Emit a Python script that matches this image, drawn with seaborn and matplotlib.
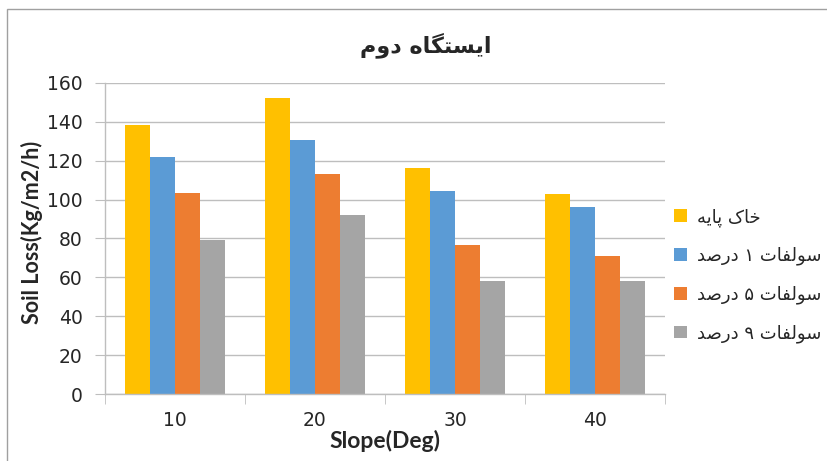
import matplotlib
matplotlib.use("Agg")
import matplotlib.pyplot as plt
import seaborn as sns
import pandas as pd
import numpy as np
from matplotlib.patches import Rectangle

slopes = ["10", "20", "30", "40"]
series_names = ["خاک پایه", "سولفات ۱ درصد", "سولفات ۵ درصد", "سولفات ۹ درصد"]
base_soil = [138.5, 152.5, 116.5, 103.0]
sulfate_1 = [122.0, 130.5, 104.5, 96.0]
sulfate_5 = [103.5, 113.0, 76.5, 71.0]
sulfate_9 = [79.0, 92.0, 58.0, 58.0]
title_text = "ایستگاه دوم"
colors = ["#FFC000", "#5B9BD5", "#ED7D31", "#A5A5A5"]

series_values = [base_soil, sulfate_1, sulfate_5, sulfate_9]

# simple Persian shaping (matplotlib has no RTL / joining support)
FORMS = {
    'ا': ('\uFE8D', '\uFE8E'),
    'د': ('\uFEA9', '\uFEAA'),
    'ر': ('\uFEAD', '\uFEAE'),
    'و': ('\uFEED', '\uFEEE'),
    'ی': ('\uFBFC', '\uFBFD', '\uFBFE', '\uFBFF'),
    'س': ('\uFEB1', '\uFEB2', '\uFEB3', '\uFEB4'),
    'ت': ('\uFE95', '\uFE96', '\uFE97', '\uFE98'),
    'گ': ('\uFB92', '\uFB93', '\uFB94', '\uFB95'),
    'ه': ('\uFEE9', '\uFEEA', '\uFEEB', '\uFEEC'),
    'م': ('\uFEE1', '\uFEE2', '\uFEE3', '\uFEE4'),
    'خ': ('\uFEA5', '\uFEA6', '\uFEA7', '\uFEA8'),
    'ک': ('\uFB8E', '\uFB8F', '\uFB90', '\uFB91'),
    'پ': ('\uFB56', '\uFB57', '\uFB58', '\uFB59'),
    'ل': ('\uFEDD', '\uFEDE', '\uFEDF', '\uFEE0'),
    'ف': ('\uFED1', '\uFED2', '\uFED3', '\uFED4'),
    'ص': ('\uFEB9', '\uFEBA', '\uFEBB', '\uFEBC'),
}


def shape_fa(text):
    out = []
    for i, ch in enumerate(text):
        if ch not in FORMS:
            out.append(ch)
            continue
        prev = text[i - 1] if i > 0 else ''
        nxt = text[i + 1] if i + 1 < len(text) else ''
        join_prev = prev in FORMS and len(FORMS[prev]) == 4
        join_next = len(FORMS[ch]) == 4 and nxt in FORMS
        f = FORMS[ch]
        if join_prev and join_next:
            out.append(f[3])
        elif join_prev:
            out.append(f[1])
        elif join_next:
            out.append(f[2])
        else:
            out.append(f[0])
    return ''.join(out)[::-1]


rows = []
for name, vals in zip(series_names, series_values):
    for s, v in zip(slopes, vals):
        rows.append({"Slope": s, "Series": name, "Loss": v})
df = pd.DataFrame(rows)

sns.set_style("white")
plt.rcParams['font.family'] = ['DejaVu Sans']

fig = plt.figure(figsize=(8.27, 4.61), dpi=100)
ax = fig.add_axes([105 / 827, 1 - 394 / 461, 560 / 827, 311 / 461])

sns.barplot(data=df, x="Slope", y="Loss", hue="Series", palette=colors,
            width=0.72, linewidth=0, saturation=1, ax=ax, legend=True)

ax.set_ylim(0, 160)
ax.set_xlim(-0.5, 3.5)
ax.set_yticks(np.arange(0, 161, 20))
ax.grid(axis='y', color='#BEBEBE', linewidth=1)
ax.set_axisbelow(True)
for side in ['top', 'right']:
    ax.spines[side].set_visible(False)
for side in ['left', 'bottom']:
    ax.spines[side].set_color('#BEBEBE')
    ax.spines[side].set_linewidth(1)

ax.tick_params(axis='y', length=7, color='#BEBEBE', labelsize=13.5, pad=9, left=True)
ax.tick_params(axis='x', which='major', length=0, labelsize=13.5, pad=12)
ax.set_xticks([-0.5, 0.5, 1.5, 2.5, 3.5], minor=True)
ax.tick_params(axis='x', which='minor', length=7, color='#BEBEBE', bottom=True)

ax.set_xlabel("Slope(Deg)", fontsize=16.5, fontweight='bold', family=['Lato', 'DejaVu Sans'], labelpad=0)
ax.set_ylabel("Soil Loss(Kg/m2/h)", fontsize=15.5, fontweight='bold', family=['Lato', 'DejaVu Sans'])
ax.yaxis.set_label_coords(-0.11, 0.52)

handles, labels = ax.get_legend_handles_labels()
ax.legend(handles, [shape_fa(l) for l in labels], loc='upper left',
          bbox_to_anchor=(665 / 827, 1 - 199 / 461), bbox_transform=fig.transFigure,
          frameon=False, fontsize=13, handlelength=0.7, handleheight=0.7,
          handletextpad=0.55, labelspacing=1.12, borderpad=0)

fig.text(426 / 827, 1 - 45 / 461, shape_fa(title_text), ha='center', va='center',
         fontsize=16, fontweight='bold')

fig.patches.append(Rectangle((7 / 827, -0.05), 1.2, 1 - 9 / 461 + 0.05, transform=fig.transFigure,
                             fill=False, edgecolor='#A0A0A0', linewidth=1))

fig.savefig("out.png", dpi=100)
